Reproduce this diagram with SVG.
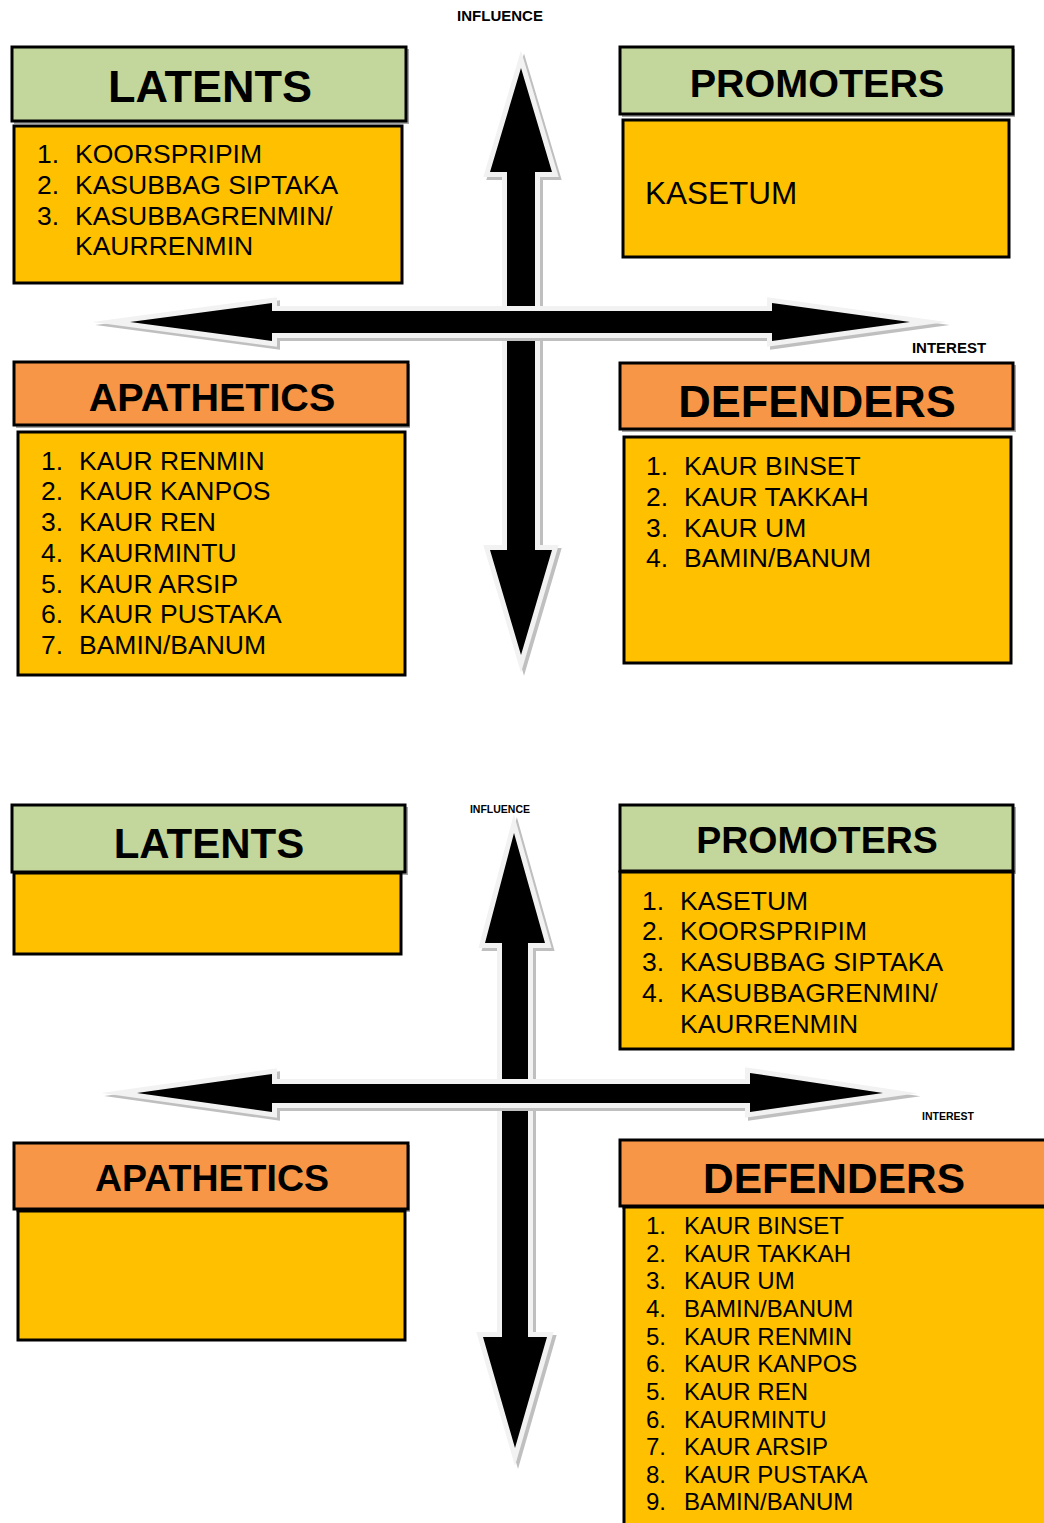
<svg xmlns="http://www.w3.org/2000/svg" width="1044" height="1523" viewBox="0 0 1044 1523">
<style>
.hg{fill:#c3d69b;stroke:#000;stroke-width:3}
.ho{fill:#f79646;stroke:#000;stroke-width:3}
.bd{fill:#ffc000;stroke:#000;stroke-width:3}
.sh{fill:#a6a6a6}
.ht{font-family:"Liberation Sans",Arial,sans-serif;font-weight:bold;text-anchor:middle;fill:#000}
.it{font-family:"Liberation Sans",Arial,sans-serif;fill:#000}
.ax{font-family:"Liberation Sans",Arial,sans-serif;font-weight:bold;text-anchor:middle;fill:#000}
.ash{fill:#bfbfbf;stroke:#bfbfbf;stroke-width:10;stroke-linejoin:miter;stroke-miterlimit:20}
.awh{fill:#f2f2f2;stroke:#f2f2f2;stroke-width:10;stroke-linejoin:miter;stroke-miterlimit:20}
.abk{fill:#000}
</style>
<defs>
<polygon id="v1" points="521,68 552,172 535,172 535,550 552,550 521,655 490,550 507,550 507,172 490,172"/>
<polygon id="h1" points="130,322 272,303 272,311 772,311 772,303 910,322 772,341 772,333 272,333 272,341"/>
<polygon id="v2" points="514,833 545,943 528,943 528,1337 547,1337 515,1448 483,1337 502,1337 502,943 485,943"/>
<polygon id="h2" points="137,1093 272,1074 272,1084 750,1084 750,1073 883,1093 750,1112 750,1103 272,1103 272,1112"/>
</defs>

<g id="connectors">
  <g id="arrow-influence-1">
    <use href="#v1" class="ash" transform="translate(3,3)"/>
    <use href="#v1" class="awh"/>
    <use href="#v1" class="abk"/>
  </g>
  <g id="arrow-interest-1">
    <use href="#h1" class="ash" transform="translate(3,3)"/>
    <use href="#h1" class="awh"/>
    <use href="#h1" class="abk"/>
  </g>
  <g id="arrow-influence-2">
    <use href="#v2" class="ash" transform="translate(3,3)"/>
    <use href="#v2" class="awh"/>
    <use href="#v2" class="abk"/>
  </g>
  <g id="arrow-interest-2">
    <use href="#h2" class="ash" transform="translate(3,3)"/>
    <use href="#h2" class="awh"/>
    <use href="#h2" class="abk"/>
  </g>
</g>

<g id="axis-labels">
  <text class="ax" x="500" y="21" font-size="15">INFLUENCE</text>
  <text class="ax" x="949" y="353" font-size="15">INTEREST</text>
  <text class="ax" x="500" y="813" font-size="10.5">INFLUENCE</text>
  <text class="ax" x="948" y="1120" font-size="10.5">INTEREST</text>
</g>

<!-- TOP QUADRANT -->
<g id="latents-1">
  <rect class="sh" x="14" y="49" width="395" height="75"/>
  <rect class="hg" x="12" y="47" width="394" height="74"/>
  <text class="ht" x="210" y="102" font-size="45">LATENTS</text>
  <rect class="bd" x="14" y="126" width="388" height="157"/>
  <g class="it" font-size="26.5">
    <text x="37" y="163">1.</text><text x="75" y="163">KOORSPRIPIM</text>
    <text x="37" y="194">2.</text><text x="75" y="194">KASUBBAG SIPTAKA</text>
    <text x="37" y="225">3.</text><text x="75" y="225">KASUBBAGRENMIN/</text>
    <text x="75" y="255">KAURRENMIN</text>
  </g>
</g>

<g id="promoters-1">
  <rect class="sh" x="622" y="49" width="393" height="68"/>
  <rect class="hg" x="620" y="47" width="393" height="67"/>
  <text class="ht" x="817" y="97" font-size="39.5">PROMOTERS</text>
  <rect class="bd" x="623" y="120" width="386" height="137"/>
  <text class="it" x="645" y="204" font-size="31.5">KASETUM</text>
</g>

<g id="apathetics-1">
  <rect class="sh" x="16" y="364" width="394" height="64"/>
  <rect class="ho" x="14" y="362" width="394" height="63"/>
  <text class="ht" x="212" y="411" font-size="39.5">APATHETICS</text>
  <rect class="bd" x="18" y="432" width="387" height="243"/>
  <g class="it" font-size="26.5">
    <text x="41" y="470">1.</text><text x="79" y="470">KAUR RENMIN</text>
    <text x="41" y="500">2.</text><text x="79" y="500">KAUR KANPOS</text>
    <text x="41" y="531">3.</text><text x="79" y="531">KAUR REN</text>
    <text x="41" y="562">4.</text><text x="79" y="562">KAURMINTU</text>
    <text x="41" y="593">5.</text><text x="79" y="593">KAUR ARSIP</text>
    <text x="41" y="623">6.</text><text x="79" y="623">KAUR PUSTAKA</text>
    <text x="41" y="654">7.</text><text x="79" y="654">BAMIN/BANUM</text>
  </g>
</g>

<g id="defenders-1">
  <rect class="sh" x="622" y="365" width="394" height="67"/>
  <rect class="ho" x="620" y="363" width="393" height="66"/>
  <text class="ht" x="817" y="417" font-size="45">DEFENDERS</text>
  <rect class="bd" x="624" y="437" width="387" height="226"/>
  <g class="it" font-size="26.5">
    <text x="646" y="475">1.</text><text x="684" y="475">KAUR BINSET</text>
    <text x="646" y="506">2.</text><text x="684" y="506">KAUR TAKKAH</text>
    <text x="646" y="537">3.</text><text x="684" y="537">KAUR UM</text>
    <text x="646" y="567">4.</text><text x="684" y="567">BAMIN/BANUM</text>
  </g>
</g>

<!-- BOTTOM QUADRANT -->
<g id="latents-2">
  <rect class="sh" x="14" y="807" width="394" height="68"/>
  <rect class="hg" x="12" y="805" width="393" height="67"/>
  <text class="ht" x="209" y="858" font-size="42">LATENTS</text>
  <rect class="bd" x="14" y="873" width="387" height="81"/>
</g>

<g id="promoters-2">
  <rect class="sh" x="622" y="807" width="394" height="67"/>
  <rect class="hg" x="620" y="805" width="393" height="66"/>
  <text class="ht" x="817" y="853" font-size="37.5">PROMOTERS</text>
  <rect class="bd" x="620" y="872" width="393" height="177"/>
  <g class="it" font-size="26.5">
    <text x="642" y="910">1.</text><text x="680" y="910">KASETUM</text>
    <text x="642" y="940">2.</text><text x="680" y="940">KOORSPRIPIM</text>
    <text x="642" y="971">3.</text><text x="680" y="971">KASUBBAG SIPTAKA</text>
    <text x="642" y="1002">4.</text><text x="680" y="1002">KASUBBAGRENMIN/</text>
    <text x="680" y="1033">KAURRENMIN</text>
  </g>
</g>

<g id="apathetics-2">
  <rect class="sh" x="16" y="1145" width="394" height="67"/>
  <rect class="ho" x="14" y="1143" width="394" height="66"/>
  <text class="ht" x="212" y="1191" font-size="37.5">APATHETICS</text>
  <rect class="bd" x="18" y="1211" width="387" height="129"/>
</g>

<g id="defenders-2">
  <rect class="sh" x="622" y="1142" width="440" height="67"/>
  <rect class="ho" x="620" y="1140" width="440" height="66"/>
  <text class="ht" x="834" y="1193" font-size="42.5">DEFENDERS</text>
  <rect class="bd" x="624" y="1207" width="440" height="330"/>
  <g class="it" font-size="24">
    <text x="646" y="1234">1.</text><text x="684" y="1234">KAUR BINSET</text>
    <text x="646" y="1262">2.</text><text x="684" y="1262">KAUR TAKKAH</text>
    <text x="646" y="1289">3.</text><text x="684" y="1289">KAUR UM</text>
    <text x="646" y="1317">4.</text><text x="684" y="1317">BAMIN/BANUM</text>
    <text x="646" y="1345">5.</text><text x="684" y="1345">KAUR RENMIN</text>
    <text x="646" y="1372">6.</text><text x="684" y="1372">KAUR KANPOS</text>
    <text x="646" y="1400">5.</text><text x="684" y="1400">KAUR REN</text>
    <text x="646" y="1428">6.</text><text x="684" y="1428">KAURMINTU</text>
    <text x="646" y="1455">7.</text><text x="684" y="1455">KAUR ARSIP</text>
    <text x="646" y="1483">8.</text><text x="684" y="1483">KAUR PUSTAKA</text>
    <text x="646" y="1510">9.</text><text x="684" y="1510">BAMIN/BANUM</text>
  </g>
</g>
</svg>
